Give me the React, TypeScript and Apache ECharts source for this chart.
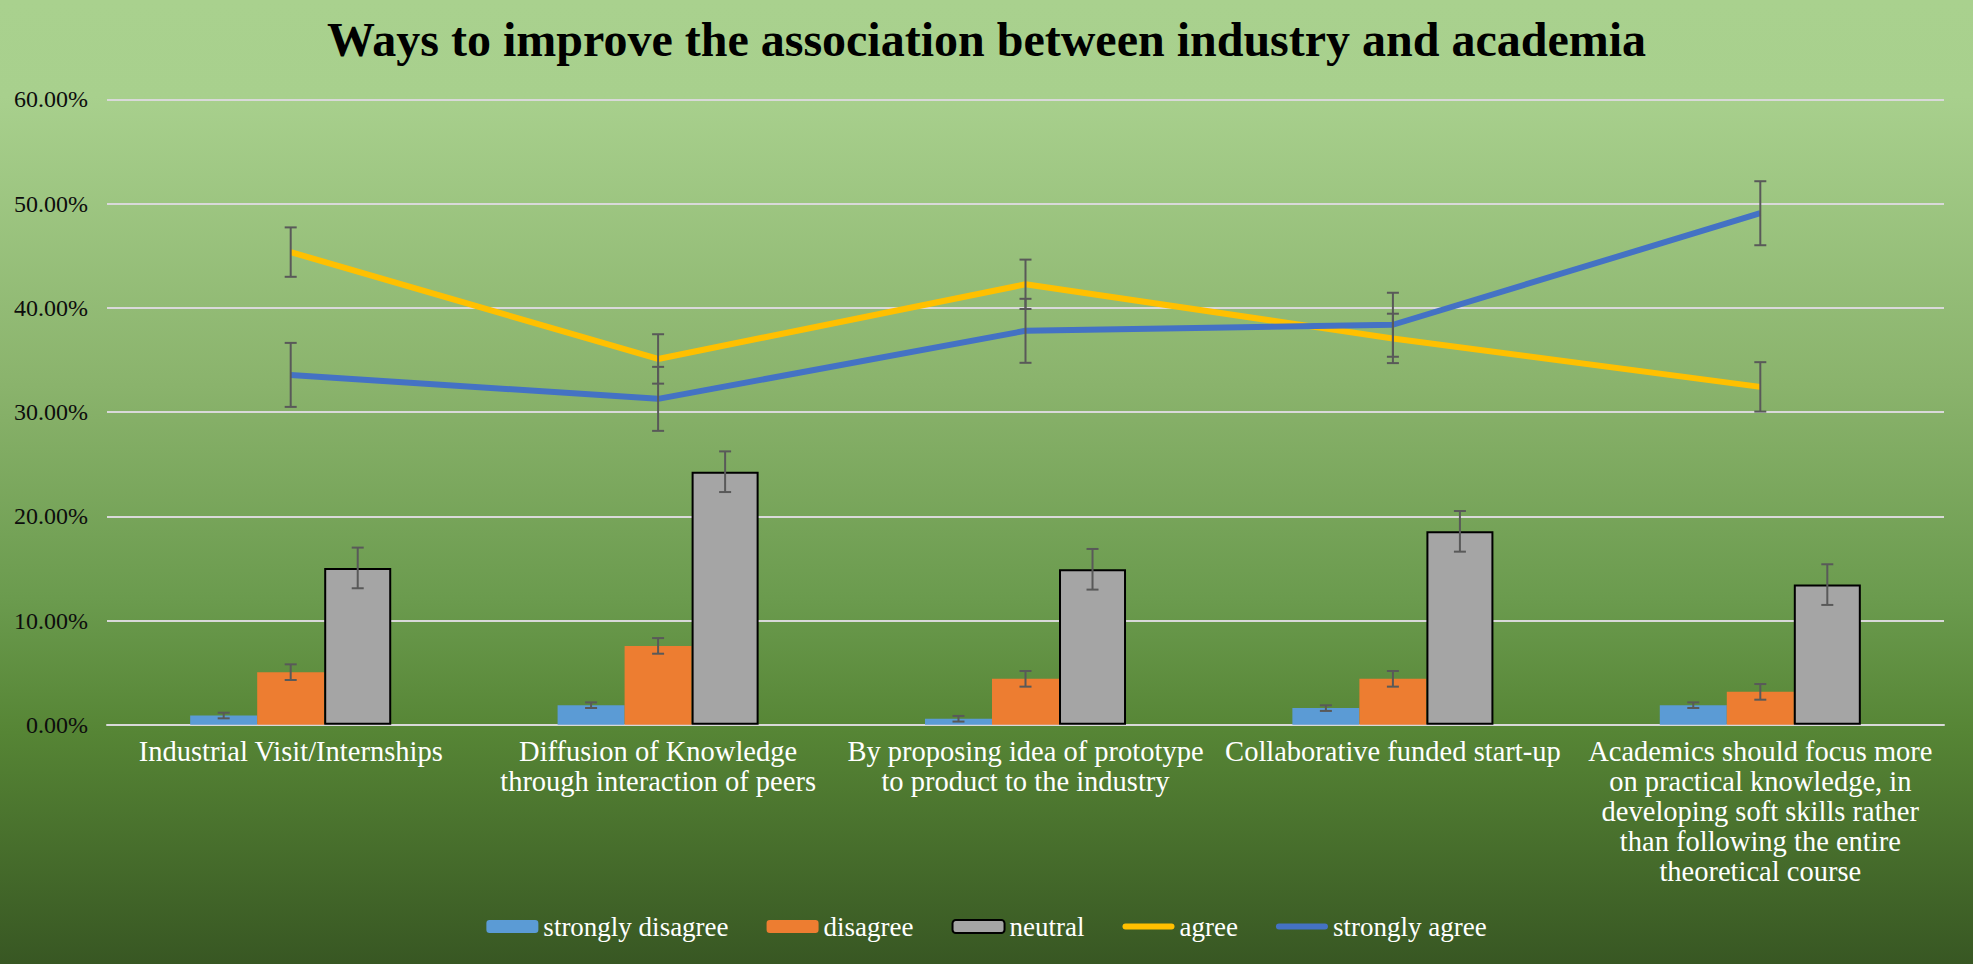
import React, { useEffect, useRef } from "react";
import * as echarts from "echarts";

const categories = [
  "Industrial Visit/Internships",
  "Diffusion of Knowledge\nthrough interaction of peers",
  "By proposing idea of prototype\nto product to the industry",
  "Collaborative funded start-up",
  "Academics should focus more\non practical knowledge, in\ndeveloping soft skills rather\nthan following the entire\ntheoretical course",
];
const stronglyDisagree = [0.89, 1.88, 0.58, 1.6, 1.88];
const disagree = [5.05, 7.57, 4.41, 4.41, 3.16];
const neutral = [15.05, 24.28, 14.92, 18.56, 13.45];
const agree = [45.35, 35.1, 42.26, 37.07, 32.42];
const stronglyAgree = [33.57, 31.27, 37.8, 38.38, 49.08];

const errStronglyDisagree = [0.27, 0.27, 0.27, 0.27, 0.27];
const errDisagree = [0.75, 0.75, 0.75, 0.75, 0.75];
const errNeutral = [1.95, 1.95, 1.95, 1.95, 1.95];
const errAgree = [2.37, 2.37, 2.37, 2.37, 2.37];
const errStronglyAgree = [3.07, 3.07, 3.07, 3.07, 3.07];

const yTicks = [0, 10, 20, 30, 40, 50, 60];

const FONT = "'Liberation Serif', 'Times New Roman', serif";
const BAR_FRAC = 0.1824;
const LINE_ICON = "path://M3,0H49A3,3,0,0,1,49,6H3A3,3,0,0,1,3,0Z";

function errSeries(name: string, values: number[], errs: number[], offsetIdx: number) {
  return {
    name: name + "-err",
    type: "custom",
    coordinateSystem: "cartesian2d",
    silent: true,
    z: 10,
    clip: false,
    encode: { x: 0, y: 1 },
    data: values.map((v, i) => [i, v, errs[i]]),
    renderItem: (params: any, api: any) => {
      const xi = api.value(0);
      const v = api.value(1);
      const e = api.value(2);
      const cat = api.size([1, 0])[0];
      const off = offsetIdx * BAR_FRAC * cat;
      const hi = api.coord([xi, v + e]);
      const lo = api.coord([xi, Math.max(v - e, 0)]);
      const x = hi[0] + off;
      const cap = 6;
      const style = { stroke: "#595959", lineWidth: 2 };
      return {
        type: "group",
        children: [
          { type: "line", shape: { x1: x, y1: hi[1], x2: x, y2: lo[1] }, style },
          { type: "line", shape: { x1: x - cap, y1: hi[1], x2: x + cap, y2: hi[1] }, style },
          { type: "line", shape: { x1: x - cap, y1: lo[1], x2: x + cap, y2: lo[1] }, style },
        ],
      };
    },
  };
}

export default function App() {
  const ref = useRef<HTMLDivElement>(null);
  useEffect(() => {
    document.body.style.margin = "0";
    const chart = echarts.init(ref.current!, null, { renderer: "svg" });
    const option: any = {
      animation: false,
      backgroundColor: new echarts.graphic.LinearGradient(0, 0, 0, 1, [
        { offset: 0, color: "#A9D18E" },
        { offset: 0.1, color: "#A8D08D" },
        { offset: 0.4, color: "#8AB36C" },
        { offset: 0.62, color: "#6B9B4E" },
        { offset: 0.76, color: "#568535" },
        { offset: 1, color: "#385723" },
      ]),
      title: {
        text: "Ways to improve the association between industry and academia",
        left: "center",
        top: 10,
        textStyle: {
          fontFamily: FONT,
          fontWeight: "bold",
          fontSize: 48,
          color: "#000",
        },
      },
      legend: {
        top: 908,
        left: "center",
        itemWidth: 52,
        itemHeight: 13,
        itemGap: 38,
        data: [
          { name: "strongly disagree" },
          { name: "disagree" },
          { name: "neutral" },
          { name: "agree", icon: LINE_ICON },
          { name: "strongly agree", icon: LINE_ICON },
        ],
        textStyle: { fontFamily: FONT, fontSize: 27, color: "#fff" },
      },
      grid: { left: 107, right: 29, top: 99.4, bottom: 239.2, containLabel: false },
      xAxis: {
        type: "category",
        data: categories,
        axisTick: { show: false },
        axisLine: { show: true, lineStyle: { color: "#D9D9D9", width: 2 } },
        axisLabel: {
          interval: 0,
          fontFamily: FONT,
          fontSize: 28.5,
          lineHeight: 30,
          color: "#fff",
          margin: 12,
          align: "center",
          overflow: "none",
        },
      },
      yAxis: {
        type: "value",
        min: yTicks[0],
        max: yTicks[yTicks.length - 1],
        interval: 10,
        axisLine: { show: false },
        axisTick: { show: false },
        splitLine: { lineStyle: { color: "#D9D9D9", width: 2 } },
        axisLabel: {
          fontFamily: FONT,
          fontSize: 24,
          color: "#0D0D0D",
          margin: 19,
          formatter: (v: number) => v.toFixed(2) + "%",
        },
      },
      series: [
        {
          name: "strongly disagree",
          type: "bar",
          data: stronglyDisagree,
          barWidth: (BAR_FRAC * 100).toFixed(2) + "%",
          barGap: "0%",
          itemStyle: { color: "#5B9BD5" },
        },
        {
          name: "disagree",
          type: "bar",
          data: disagree,
          barWidth: (BAR_FRAC * 100).toFixed(2) + "%",
          barGap: "0%",
          itemStyle: { color: "#ED7D31" },
        },
        {
          name: "neutral",
          type: "bar",
          data: neutral,
          barWidth: (BAR_FRAC * 100).toFixed(2) + "%",
          barGap: "0%",
          itemStyle: { color: "#A5A5A5", borderColor: "#000", borderWidth: 2 },
        },
        {
          name: "agree",
          type: "line",
          data: agree,
          symbol: "none",
          z: 5,
          lineStyle: { color: "#FFC000", width: 6 },
          itemStyle: { color: "#FFC000" },
        },
        {
          name: "strongly agree",
          type: "line",
          data: stronglyAgree,
          symbol: "none",
          z: 5,
          lineStyle: { color: "#4472C4", width: 6 },
          itemStyle: { color: "#4472C4" },
        },
        errSeries("strongly disagree", stronglyDisagree, errStronglyDisagree, -1),
        errSeries("disagree", disagree, errDisagree, 0),
        errSeries("neutral", neutral, errNeutral, 1),
        errSeries("agree", agree, errAgree, 0),
        errSeries("strongly agree", stronglyAgree, errStronglyAgree, 0),
      ],
    };
    chart.setOption(option);
    return () => chart.dispose();
  }, []);
  return <div ref={ref} style={{ width: 1973, height: 964 }} />;
}
